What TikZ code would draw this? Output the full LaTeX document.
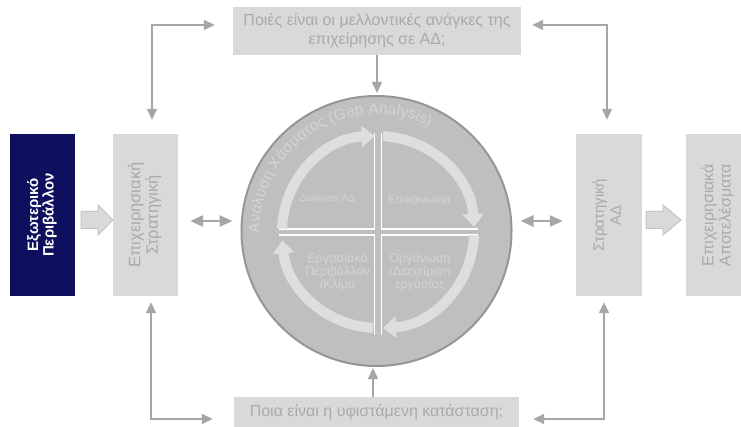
\documentclass[tikz,border=0pt]{standalone}
\usepackage{fontspec}
\setmainfont{Liberation Sans}
\usetikzlibrary{arrows.meta,calc,decorations.text}

\definecolor{navy}{RGB}{14,16,94}
\definecolor{boxgray}{RGB}{217,217,217}
\definecolor{boxtext}{RGB}{170,170,170}
\definecolor{linkgray}{RGB}{166,166,166}
\definecolor{discfill}{RGB}{191,191,191}
\definecolor{discedge}{RGB}{150,150,150}
\definecolor{cyclegray}{RGB}{222,222,222}
\definecolor{innertext}{RGB}{212,212,212}
\definecolor{blockedge}{RGB}{196,196,196}

\newcommand\panelfont{\fontsize{16}{17}\selectfont}
\newcommand\uprot[1]{\rotatebox{90}{\begin{tabular}{@{}c@{}}#1\end{tabular}}}

\tikzset{
  linktip/.tip={Triangle[length=11pt,width=10pt]},
  dbltip/.tip={Triangle[length=13pt,width=11pt]}
}

\begin{document}
\begin{tikzpicture}[x=1pt,y=1pt,
  panel/.style={rectangle, fill=boxgray, inner sep=0pt, text=boxtext, font=\panelfont},
  tallpanel/.style={panel, minimum width=65pt, minimum height=162pt},
  link/.style={draw=linkgray, line width=1.5pt, -linktip},
  linkboth/.style={draw=linkgray, line width=1.5pt, linktip-linktip},
  dbl/.style={draw=linkgray, line width=2.5pt, dbltip-dbltip},
  block/.style={fill=boxgray, draw=blockedge, line width=1pt},
  cyclearrow/.style={draw=cyclegray, line width=10pt,
    -{Triangle[length=13pt,width=21pt]}},
  cross/.style={draw=white, line width=1.5pt},
  innerlabel/.style={text=innertext, font=\fontsize{12.5}{13}\selectfont,
    align=center, inner sep=0pt}
]
\useasboundingbox (0,0) rectangle (741,426);
\fill[white] (0,0) rectangle (741,426);

% side panels
\node[tallpanel, fill=navy, text=white, font=\bfseries\fontsize{15}{14}\selectfont]
  (ext) at (42.5,211) {\uprot{Εξωτερικό\\Περιβάλλον}};
\node[tallpanel, font=\fontsize{16.5}{17}\selectfont] (strat) at (145.5,211)
  {\uprot{Επιχειρησιακή\\Στρατηγική}};
\node[tallpanel, minimum width=66pt, font=\fontsize{15}{17}\selectfont] (hrstrat)
  at (609,211) {\uprot{Στρατηγική\\ΑΔ}};
\node[tallpanel] (results) at (718.5,211) {\uprot{Επιχειρησιακά\\Αποτελέσματα}};

% question panels
\node[panel, minimum width=288pt, minimum height=48pt, align=center,
  font=\fontsize{16}{19}\selectfont] (future) at (377,395)
  {Ποιές είναι οι μελλοντικές ανάγκες της\\επιχείρησης σε ΑΔ;};
\node[panel, minimum width=285pt, minimum height=30pt] (current) at (376.5,14)
  {Ποια είναι η υφιστάμενη κατάσταση;};

% block arrows
\filldraw[block] (81,214.5) -- (98,214.5) -- (98,221) -- (113,206) -- (98,191)
  -- (98,197.5) -- (81,197.5) -- cycle;
\filldraw[block] (646,214.5) -- (663,214.5) -- (663,221) -- (681,206) -- (663,191)
  -- (663,197.5) -- (646,197.5) -- cycle;

% gap analysis disc
\node[circle, minimum size=270pt, inner sep=0pt, fill=discfill, draw=discedge,
  line width=2pt] (disc) at (376.5,195) {};
\coordinate (hub) at (378,194);

% quadrant borders
\draw[cross] (374.5,293) -- (374.5,197) -- (279,197);
\draw[cross] (381.5,293) -- (381.5,197) -- (478,197);
\draw[cross] (374.5,91) -- (374.5,191) -- (279,191);
\draw[cross] (381.5,91) -- (381.5,191) -- (478,191);

% cycle arrows
\draw[cyclearrow] ($(hub)+(178:96)$) arc[start angle=178, end angle=92, radius=96];
\draw[cyclearrow] ($(hub)+(87:96)$) arc[start angle=87, end angle=3, radius=96];
\draw[cyclearrow] ($(hub)+(-2:96)$) arc[start angle=-2, end angle=-87, radius=96];
\draw[cyclearrow] ($(hub)+(-93:96)$) arc[start angle=-93, end angle=-175, radius=96];

% quadrant labels
\node[innerlabel, font=\fontsize{10}{12}\selectfont] (mgmt) at (327.5,227) {Διοίκηση ΑΔ};
\node[innerlabel, font=\fontsize{11.5}{12}\selectfont] (comm) at (419,227) {Επικοινωνία};
\node[innerlabel] (climate) at (337.5,154) {Εργασιακό\\Περιβάλλον\\/Κλίμα};
\node[innerlabel] (work) at (420,154) {Οργάνωση\\/Διαχείριση\\εργασίας};

% curved title
\path[decorate, decoration={text along path,
    text={|\fontsize{15.5}{15}\selectfont\color{innertext}|Ανάλυση Χάσματος (Gap Analysis)},
    text align=left}]
  ($(disc.center)+(181:117)$) arc[start angle=181, end angle=40, radius=117];

% connectors
\draw[link] (future.south) -- ([yshift=2pt]future.south |- disc.north);
\draw[link] ([xshift=-3.5pt]current.north) -- ([xshift=-3.5pt,yshift=-1pt]current.north |- disc.south);
\draw[dbl] ([shift={(12pt,-6pt)}]strat.east) -- ([shift={(-8pt,10pt)}]disc.west);
\draw[dbl] ([shift={(8pt,10pt)}]disc.east) -- ([shift={(-13pt,-6pt)}]hrstrat.west);

\coordinate (tlc) at (152,401);
\coordinate (trc) at (607,401);
\coordinate (blc) at (151,7);
\coordinate (brc) at (604,7);
\draw[linkboth, shorten <=18pt, shorten >=14pt]
  (future.west |- tlc) -- (tlc) -- (tlc |- strat.north);
\draw[linkboth, shorten <=11pt, shorten >=14pt]
  (future.east |- trc) -- (trc) -- (trc |- hrstrat.north);
\draw[linkboth, shorten <=6pt, shorten >=21pt]
  (blc |- strat.south) -- (blc) -- (current.west |- blc);
\draw[linkboth, shorten <=6pt, shorten >=14pt]
  (brc |- hrstrat.south) -- (brc) -- (current.east |- brc);
\end{tikzpicture}
\end{document}
